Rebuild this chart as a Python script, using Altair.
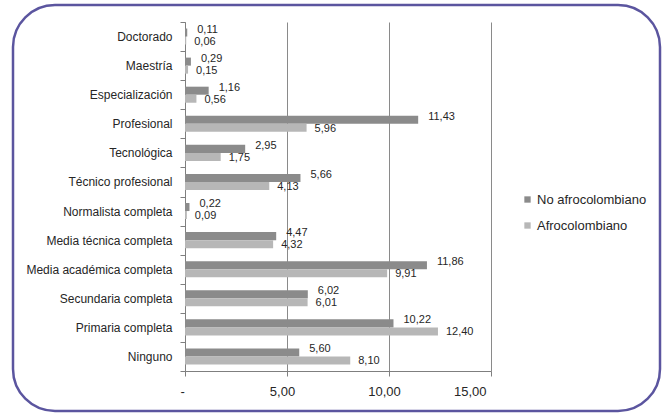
import altair as alt
import pandas as pd

categories = ["Doctorado", "Maestría", "Especialización", "Profesional", "Tecnológica",
              "Técnico profesional", "Normalista completa", "Media técnica completa",
              "Media académica completa", "Secundaria completa", "Primaria completa", "Ninguno"]
series = ["No afrocolombiano", "Afrocolombiano"]
no_afro = [0.11, 0.29, 1.16, 11.43, 2.95, 5.66, 0.22, 4.47, 11.86, 6.02, 10.22, 5.60]
afro = [0.06, 0.15, 0.56, 5.96, 1.75, 4.13, 0.09, 4.32, 9.91, 6.01, 12.40, 8.10]
x_ticks = [0, 5, 10, 15]

rows = []
for c, a, b in zip(categories, no_afro, afro):
    rows.append({"cat": c, "serie": series[0], "v": a})
    rows.append({"cat": c, "serie": series[1], "v": b})
df = pd.DataFrame(rows)

FONT = "Liberation Sans"
DARK = "#8b8b8b"
LIGHT = "#b7b7b7"

y_enc = alt.Y("cat:N", sort=categories, title=None,
              scale=alt.Scale(paddingInner=0, paddingOuter=0),
              axis=alt.Axis(tickBand="extent", labelFont=FONT, labelFontSize=12,
                            labelColor="#262626", labelPadding=8, tickSize=5,
                            tickColor="#7f7f7f", domainColor="#7f7f7f", grid=False))
yoff = alt.YOffset("serie:N", sort=series,
                   scale=alt.Scale(paddingInner=0, paddingOuter=0.8125))
x_enc = alt.X("v:Q", title=None,
              scale=alt.Scale(domain=[0, 15], nice=False),
              axis=alt.Axis(values=x_ticks, grid=True, gridColor="#8a8a8a", gridWidth=1,
                            domainColor="#7f7f7f", tickColor="#7f7f7f", tickSize=5,
                            labelFont=FONT, labelFontSize=13, labelColor="#262626",
                            labelPadding=9, labelOffset=-5,
                            labelExpr="datum.value == 0 ? '-' : replace(format(datum.value, '.2f'), '.', ',')"))

base = alt.Chart(df).transform_calculate(
    lab="replace(format(datum.v, '.2f'), '.', ',')"
)

bars = base.mark_bar().encode(
    y=y_enc, yOffset=yoff, x=x_enc,
    color=alt.Color("serie:N", sort=series,
                    scale=alt.Scale(domain=series, range=[DARK, LIGHT]),
                    legend=alt.Legend(title=None, orient="none", legendX=336, legendY=171,
                                      symbolType="square", symbolSize=40,
                                      symbolStrokeWidth=0, labelFont=FONT,
                                      labelFontSize=13, labelColor="#262626",
                                      rowPadding=12, labelOffset=3, padding=0)),
)

txt_dark = base.transform_filter(alt.datum.serie == series[0]).mark_text(
    align="left", baseline="middle", dx=10, dy=-3, font=FONT, fontSize=11, color="#262626"
).encode(y=alt.Y("cat:N", sort=categories), yOffset=yoff, x="v:Q", text="lab:N")

txt_light = base.transform_filter(alt.datum.serie == series[1]).mark_text(
    align="left", baseline="middle", dx=8, dy=1, font=FONT, fontSize=11, color="#262626"
).encode(y=alt.Y("cat:N", sort=categories), yOffset=yoff, x="v:Q", text="lab:N")

border = alt.Chart(pd.DataFrame({"k": [0]})).mark_rect(
    fill=None, stroke="#5b559f", strokeWidth=2.5, cornerRadius=42
).encode(x=alt.value(-172), x2=alt.value(475), y=alt.value(-17), y2=alt.value(389))

chart = alt.layer(bars, txt_dark, txt_light, border).properties(
    width=306, height=349,
    autosize=alt.AutoSizeParams(type="none"),
    padding={"left": 185, "top": 22, "right": 175, "bottom": 43},
    background="white",
).configure_view(stroke=None)

chart.save("out.html", embed_options={"renderer": "svg", "actions": False})
